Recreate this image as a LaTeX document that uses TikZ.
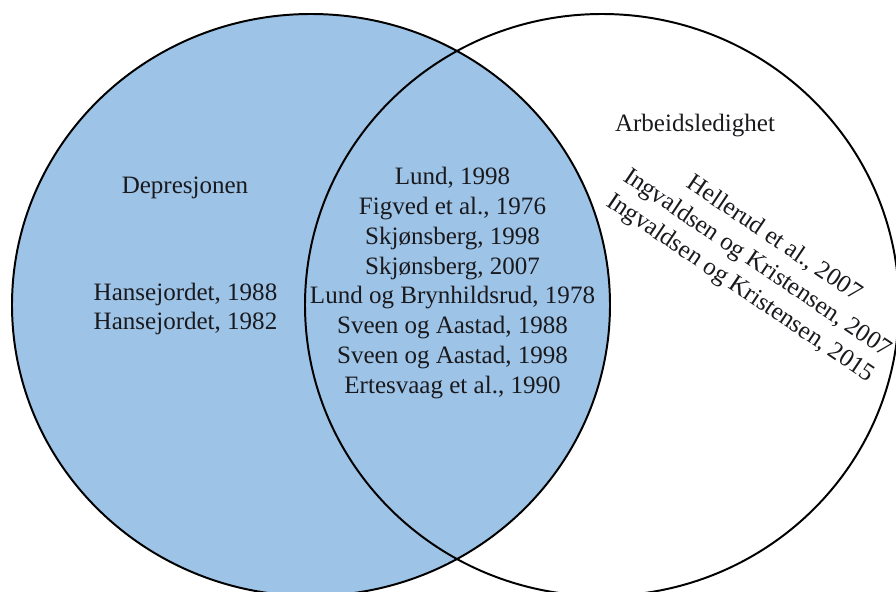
\documentclass[tikz,border=0pt]{standalone}
\usepackage{fontspec}
\setmainfont{Liberation Serif}
\definecolor{sky}{RGB}{157,195,230}
\definecolor{ink}{RGB}{25,25,30}
\tikzset{
  setline/.style={draw=black,line width=1.4pt},
  ref/.style={font=\fontsize{17.8}{21.3}\selectfont,text=ink,align=center,inner sep=0pt},
  reftight/.style={ref,font=\fontsize{17.8}{20.4}\selectfont},
}
\begin{document}
\begin{tikzpicture}[x=0.025cm,y=-0.025cm]
  \useasboundingbox (0,0) rectangle (896,592);
  \clip (0,0) rectangle (896,592);
  % the two sets
  \fill[sky] (311,305) ellipse [x radius=299, y radius=291];
  \draw[setline] (311,305) ellipse [x radius=299, y radius=291];
  \draw[setline] (602,305) ellipse [x radius=297, y radius=291];
  % labels
  \node[ref] (dep) at (185,188) {Depresjonen};
  \node[ref] (arb) at (695,126) {Arbeidsledighet};
  \node[reftight] (depref) at (185.5,309) {Hansejordet, 1988\\Hansejordet, 1982};
  \node[ref] (both) at (452.5,283) {Lund, 1998\\Figved et al., 1976\\Skjønsberg, 1998\\Skjønsberg, 2007\\
    Lund og Brynhildsrud, 1978\\Sveen og Aastad, 1988\\Sveen og Aastad, 1998\\Ertesvaag et al., 1990};
  \node[ref,rotate=-34] (arbref) at (757,264) {Hellerud et al., 2007\\Ingvaldsen og Kristensen, 2007\\Ingvaldsen og Kristensen, 2015};
\end{tikzpicture}
\end{document}
